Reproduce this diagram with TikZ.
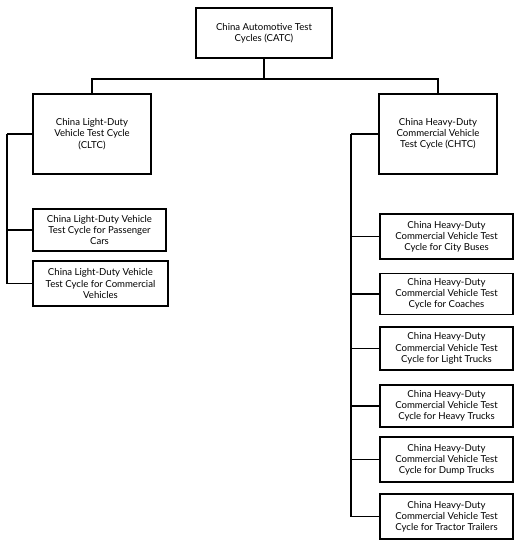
\documentclass[tikz,border=0pt]{standalone}
\usepackage{fontspec}
\setmainfont{Lato}
\usetikzlibrary{positioning}

\tikzset{
  cyclebox/.style={draw, line width=1.5pt, align=center, font=\fontsize{9.6}{11.2}\selectfont, inner sep=1pt},
  link/.style={line width=1.5pt}
}

\begin{document}
\begin{tikzpicture}[x=1pt, y=-1pt]
        \useasboundingbox (0,0) rectangle (518,550);

        % top level
        \node [cyclebox, minimum width=136pt, minimum height=50pt] (catc) at (264,33) {China Automotive Test\\Cycles (CATC)};

        % second level
        \node [cyclebox, minimum width=118pt, minimum height=80pt] (cltc) at (92,134) {China Light-Duty\\Vehicle Test Cycle\\(CLTC)};
        \node [cyclebox, minimum width=118pt, minimum height=80pt] (chtc) at (438,134) {China Heavy-Duty\\Commercial Vehicle\\Test Cycle (CHTC)};

        % light duty
        \node [cyclebox, minimum width=133pt, minimum height=42pt] (cars) at (99.5,230) {China Light-Duty Vehicle\\Test Cycle for Passenger\\Cars};
        \node [cyclebox, minimum width=135pt, minimum height=45pt] (lcv) at (100.5,283.5) {China Light-Duty Vehicle\\Test Cycle for Commercial\\Vehicles};

        % heavy duty
        \node [cyclebox, minimum width=133pt, minimum height=45pt] (bus) at (446.5,236.5) {China Heavy-Duty\\Commercial Vehicle Test\\Cycle for City Buses};
        \node [cyclebox, minimum width=133pt, minimum height=41pt] (coach) at (446.5,294) {China Heavy-Duty\\Commercial Vehicle Test\\Cycle for Coaches};
        \node [cyclebox, minimum width=133pt, minimum height=43pt] (light) at (446.5,348.5) {China Heavy-Duty\\Commercial Vehicle Test\\Cycle for Light Trucks};
        \node [cyclebox, minimum width=133pt, minimum height=42pt] (heavy) at (446.5,406) {China Heavy-Duty\\Commercial Vehicle Test\\Cycle for Heavy Trucks};
        \node [cyclebox, minimum width=133pt, minimum height=45pt] (dump) at (446.5,459.5) {China Heavy-Duty\\Commercial Vehicle Test\\Cycle for Dump Trucks};
        \node [cyclebox, minimum width=133pt, minimum height=45pt] (tractor) at (446.5,516.5) {China Heavy-Duty\\Commercial Vehicle Test\\Cycle for Tractor Trailers};

        % connectors
        \coordinate (fork) at (264,79);
        \draw [link] (catc.south) -- (fork);
        \draw [link] (fork) -| (cltc.north);
        \draw [link] (fork) -| (chtc.north);

        \coordinate (lspine) at (7,134);
        \draw [link] (cltc.west) -- (lspine);
        \draw [link] (lspine) |- (cars.west);
        \draw [link] (lspine) |- (lcv.west);

        \coordinate (hspine) at (351,134);
        \draw [link] (chtc.west) -- (hspine);
        \foreach \n in {bus, coach, light, heavy, dump, tractor}
            \draw [link] (hspine) |- (\n.west);
\end{tikzpicture}
\end{document}
